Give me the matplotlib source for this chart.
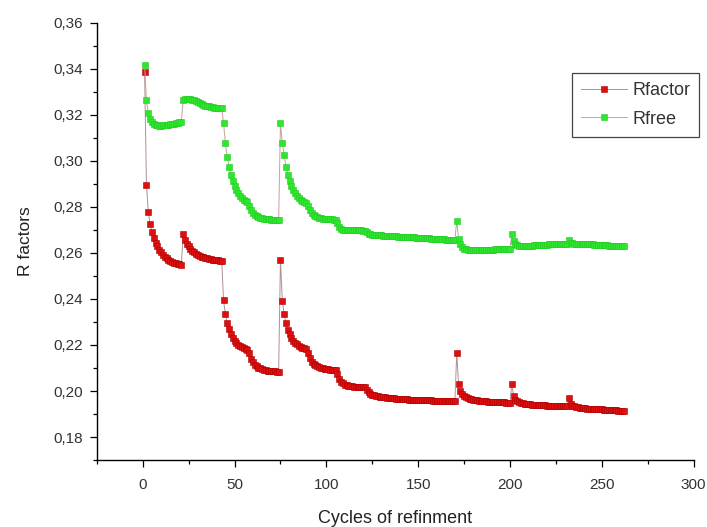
import numpy as np
import matplotlib
matplotlib.use('Agg')
import matplotlib.pyplot as plt
from matplotlib.ticker import MultipleLocator, FuncFormatter

plt.rcParams['font.family'] = ['Liberation Sans', 'DejaVu Sans']

# R factor per refinement cycle
rfactor = [
    # 1-21
    0.3386, 0.2897, 0.2778, 0.2725, 0.2691, 0.2665, 0.2645, 0.2628, 0.2614, 0.2602,
    0.2592, 0.2584, 0.2577, 0.2571, 0.2566, 0.2562, 0.2558, 0.2555, 0.2553, 0.2551, 0.2549,
    # 22-43
    0.2681, 0.2655, 0.2640, 0.2628, 0.2618, 0.2610, 0.2603, 0.2597, 0.2592, 0.2588,
    0.2584, 0.2581, 0.2578, 0.2576, 0.2574, 0.2572, 0.2570, 0.2569, 0.2568, 0.2567, 0.2566, 0.2566,
    # 44-74
    0.2394, 0.2333, 0.2296, 0.2268, 0.2248, 0.2232, 0.2219, 0.2209, 0.2201, 0.2195,
    0.2190, 0.2186, 0.2183, 0.2180,
    0.2165, 0.2140, 0.2124, 0.2114, 0.2107, 0.2102, 0.2098, 0.2095, 0.2093, 0.2091,
    0.2089, 0.2088, 0.2087, 0.2086, 0.2085, 0.2084, 0.2083,
    # 75-170
    0.2570, 0.2392, 0.2335, 0.2294, 0.2266, 0.2246, 0.2231, 0.2219, 0.2210, 0.2203,
    0.2197, 0.2192, 0.2188, 0.2185, 0.2182,
    0.2165, 0.2142, 0.2128, 0.2119, 0.2112, 0.2107, 0.2103, 0.2100, 0.2098, 0.2096,
    0.2095, 0.2094, 0.2093, 0.2092, 0.2091, 0.2090,
    0.2075, 0.2052, 0.2040, 0.2033, 0.2028, 0.2025, 0.2023, 0.2021, 0.2020, 0.2019,
    0.2018, 0.2018, 0.2017, 0.2017, 0.2016, 0.2016,
    0.2005, 0.1994, 0.1988, 0.1984, 0.1981, 0.1979, 0.1977, 0.1975, 0.1974, 0.1973,
    0.1972, 0.1971, 0.1970, 0.1969, 0.1968, 0.1968, 0.1967, 0.1966, 0.1966, 0.1965,
    0.1965, 0.1964, 0.1964, 0.1963, 0.1963, 0.1962, 0.1962, 0.1961, 0.1961, 0.1961,
    0.1960, 0.1960, 0.1960, 0.1959, 0.1959, 0.1959, 0.1958, 0.1958, 0.1958, 0.1958,
    0.1957, 0.1957, 0.1957, 0.1957, 0.1956, 0.1956, 0.1956, 0.1956, 0.1956,
    # 171-200
    0.2163, 0.2032, 0.1998, 0.1985, 0.1978, 0.1973, 0.1969, 0.1966, 0.1964, 0.1962,
    0.1960, 0.1959, 0.1958, 0.1957, 0.1956, 0.1955, 0.1955, 0.1954, 0.1954, 0.1953,
    0.1953, 0.1952, 0.1952, 0.1952, 0.1951, 0.1951, 0.1951, 0.1950, 0.1950, 0.1950,
    # 201-231
    0.2032, 0.1978, 0.1963, 0.1956, 0.1952, 0.1949, 0.1947, 0.1945, 0.1944, 0.1943,
    0.1942, 0.1941, 0.1940, 0.1940, 0.1939, 0.1939, 0.1938, 0.1938, 0.1938, 0.1937,
    0.1937, 0.1937, 0.1936, 0.1936, 0.1936, 0.1936, 0.1935, 0.1935, 0.1935, 0.1935, 0.1934,
    # 232-262
    0.1971, 0.1945, 0.1937, 0.1933, 0.1931, 0.1929, 0.1928, 0.1927, 0.1926, 0.1925,
    0.1924, 0.1923, 0.1923, 0.1922, 0.1922, 0.1921, 0.1921, 0.1920, 0.1920, 0.1919,
    0.1919, 0.1918, 0.1918, 0.1917, 0.1917, 0.1916, 0.1916, 0.1915, 0.1915, 0.1914, 0.1914,
]

rfree = [
    # 1-21
    0.3416, 0.3264, 0.3206, 0.3180, 0.3167, 0.3160, 0.3156, 0.3154, 0.3153, 0.3153,
    0.3154, 0.3155, 0.3156, 0.3157, 0.3158, 0.3160, 0.3161, 0.3163, 0.3165, 0.3167, 0.3168,
    # 22-43
    0.3264, 0.3268, 0.3270, 0.3270, 0.3268, 0.3265, 0.3262, 0.3258, 0.3254, 0.3250,
    0.3246, 0.3243, 0.3240, 0.3238, 0.3236, 0.3234, 0.3232, 0.3231, 0.3230, 0.3229, 0.3228, 0.3228,
    # 44-74
    0.3163, 0.3076, 0.3017, 0.2974, 0.2940, 0.2912, 0.2890, 0.2872, 0.2858, 0.2847,
    0.2838, 0.2831, 0.2825, 0.2820,
    0.2805, 0.2786, 0.2773, 0.2765, 0.2759, 0.2755, 0.2752, 0.2750, 0.2748, 0.2747,
    0.2746, 0.2745, 0.2744, 0.2743, 0.2743, 0.2742, 0.2742,
    # 75-170
    0.3163, 0.3076, 0.3025, 0.2974, 0.2940, 0.2912, 0.2890, 0.2872, 0.2858, 0.2847,
    0.2838, 0.2831, 0.2826, 0.2822, 0.2818,
    0.2805, 0.2786, 0.2774, 0.2766, 0.2760, 0.2756, 0.2753, 0.2751, 0.2749, 0.2748,
    0.2747, 0.2746, 0.2745, 0.2745, 0.2744, 0.2743,
    0.2730, 0.2712, 0.2705, 0.2701, 0.2699, 0.2698, 0.2698, 0.2698, 0.2698, 0.2698,
    0.2698, 0.2698, 0.2698, 0.2698, 0.2697, 0.2697,
    0.2690, 0.2684, 0.2681, 0.2679, 0.2678, 0.2677, 0.2677, 0.2676, 0.2676, 0.2675,
    0.2675, 0.2674, 0.2674, 0.2673, 0.2673, 0.2672, 0.2672, 0.2671, 0.2671, 0.2670,
    0.2670, 0.2669, 0.2669, 0.2668, 0.2668, 0.2667, 0.2667, 0.2666, 0.2666, 0.2665,
    0.2665, 0.2664, 0.2664, 0.2663, 0.2663, 0.2662, 0.2662, 0.2661, 0.2661, 0.2660,
    0.2660, 0.2659, 0.2659, 0.2658, 0.2658, 0.2657, 0.2657, 0.2656, 0.2656,
    # 171-200
    0.2740, 0.2660, 0.2638, 0.2626, 0.2619, 0.2615, 0.2613, 0.2612, 0.2611, 0.2611,
    0.2611, 0.2611, 0.2612, 0.2612, 0.2612, 0.2613, 0.2613, 0.2613, 0.2614, 0.2614,
    0.2614, 0.2615, 0.2615, 0.2615, 0.2616, 0.2616, 0.2616, 0.2617, 0.2617, 0.2618,
    # 201-231
    0.2681, 0.2650, 0.2638, 0.2633, 0.2631, 0.2630, 0.2630, 0.2630, 0.2631, 0.2631,
    0.2632, 0.2632, 0.2633, 0.2633, 0.2634, 0.2634, 0.2635, 0.2635, 0.2636, 0.2636,
    0.2637, 0.2637, 0.2637, 0.2638, 0.2638, 0.2638, 0.2639, 0.2639, 0.2640, 0.2640, 0.2640,
    # 232-262
    0.2658, 0.2645, 0.2641, 0.2640, 0.2640, 0.2640, 0.2640, 0.2639, 0.2639, 0.2639,
    0.2638, 0.2638, 0.2637, 0.2637, 0.2636, 0.2636, 0.2635, 0.2635, 0.2634, 0.2634,
    0.2633, 0.2633, 0.2632, 0.2632, 0.2631, 0.2631, 0.2630, 0.2630, 0.2629, 0.2629, 0.2628,
]

cycles = np.arange(1, len(rfactor) + 1)

fig = plt.figure(figsize=(7.07, 5.27), dpi=100)
ax = fig.add_axes([0.137, 0.127, 0.844, 0.830])

ax.plot(cycles, rfactor, color='#b09090', linewidth=0.7, marker='s', markersize=3.7,
        markerfacecolor='#dc1010', markeredgecolor='#b00000', markeredgewidth=0.4, label='Rfactor')
ax.plot(cycles, rfree, color='#c8a0a0', linewidth=0.7, marker='s', markersize=3.7,
        markerfacecolor='#2ee62e', markeredgecolor='#22cc22', markeredgewidth=0.4, label='Rfree')

ax.set_xlim(-25, 300)
ax.set_ylim(0.17, 0.36)
ax.xaxis.set_major_locator(MultipleLocator(50))
ax.xaxis.set_minor_locator(MultipleLocator(25))
ax.yaxis.set_major_locator(MultipleLocator(0.02))
ax.yaxis.set_minor_locator(MultipleLocator(0.01))
ax.yaxis.set_major_formatter(FuncFormatter(lambda v, p: ('%.2f' % v).replace('.', ',')))

ax.spines['top'].set_visible(False)
ax.spines['right'].set_visible(False)
ax.spines['left'].set_linewidth(1.0)
ax.spines['bottom'].set_linewidth(1.0)
ax.tick_params(axis='both', which='major', direction='out', length=5, width=0.9,
               labelsize=11, labelcolor='#333333')
ax.tick_params(axis='x', which='major', pad=8)
ax.tick_params(axis='y', which='major', pad=5)
ax.tick_params(axis='both', which='minor', direction='out', length=3, width=0.9)

ax.set_xlabel('Cycles of refinment', fontsize=13, labelpad=13, color='#222222')
ax.set_ylabel('R factors', fontsize=12.5, labelpad=15, color='#222222')

leg = ax.legend(loc='upper left', bbox_to_anchor=(0.797, 0.885), fontsize=13, fancybox=False,
                edgecolor='#444444', framealpha=1, handlelength=2.5, borderpad=0.5,
                labelspacing=0.65, handletextpad=0.3, borderaxespad=0)
leg.get_frame().set_linewidth(0.9)
for t in leg.get_texts():
    t.set_color('#333333')

fig.savefig('out.png', dpi=100)
